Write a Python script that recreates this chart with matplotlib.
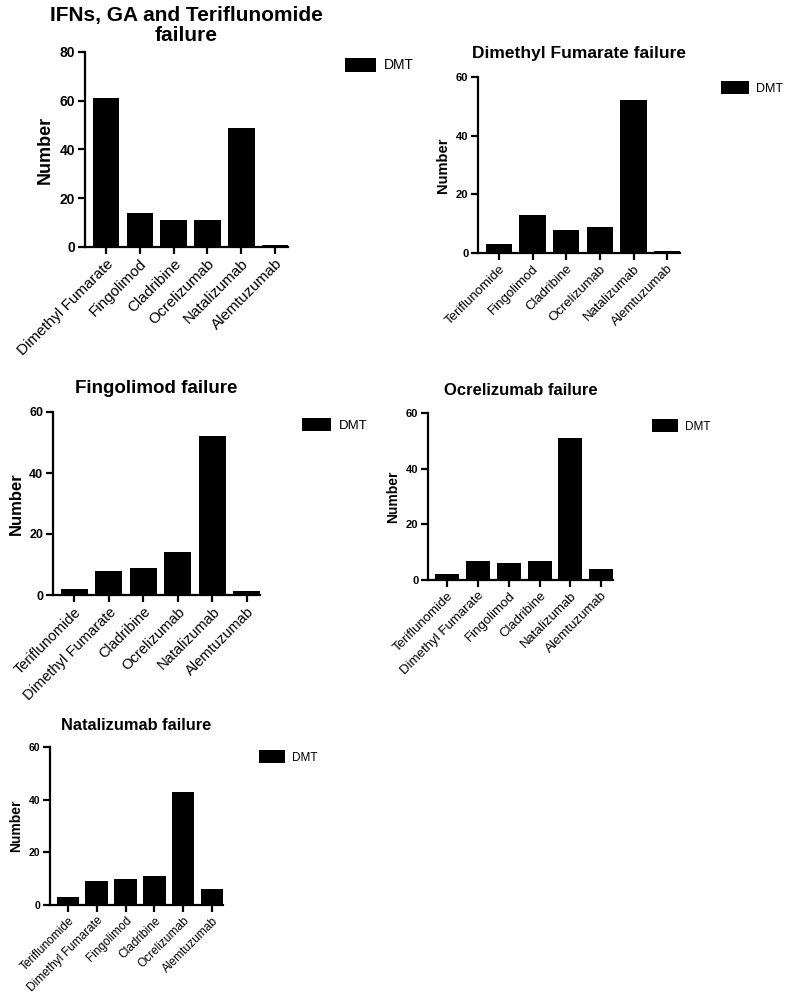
import matplotlib
matplotlib.use("Agg")
import matplotlib.pyplot as plt

plt.rcParams['font.family'] = ['Liberation Sans', 'DejaVu Sans']

# Data
titles = ["IFNs, GA and Teriflunomide\nfailure", "Dimethyl Fumarate failure",
          "Fingolimod failure", "Ocrelizumab failure", "Natalizumab failure"]

cats1 = ["Dimethyl Fumarate", "Fingolimod", "Cladribine", "Ocrelizumab", "Natalizumab", "Alemtuzumab"]
vals1 = [61, 14, 11, 11, 49, 1]

cats2 = ["Teriflunomide", "Fingolimod", "Cladribine", "Ocrelizumab", "Natalizumab", "Alemtuzumab"]
vals2 = [3, 13, 8, 9, 52, 0.7]

cats3 = ["Teriflunomide", "Dimethyl Fumarate", "Cladribine", "Ocrelizumab", "Natalizumab", "Alemtuzumab"]
vals3 = [2, 8, 9, 14, 52, 1.3]

cats4 = ["Teriflunomide", "Dimethyl Fumarate", "Fingolimod", "Cladribine", "Natalizumab", "Alemtuzumab"]
vals4 = [2, 7, 6, 7, 51, 4]

cats5 = ["Teriflunomide", "Dimethyl Fumarate", "Fingolimod", "Cladribine", "Ocrelizumab", "Alemtuzumab"]
vals5 = [3, 9, 10, 11, 43, 6]

ymaxs = [80, 60, 60, 60, 60]
series_label = "DMT"

W, H = 791, 997
fig = plt.figure(figsize=(W / 100, H / 100), dpi=100)

# pixel boxes: left, right, top, bottom
boxes = [(85, 288, 52, 247), (478, 680, 77, 253), (53, 260, 412, 595),
         (428, 613, 413, 580), (50, 223, 747, 905)]
legend_pos = [(345, 65), (721, 88), (302, 425), (652, 426), (259, 757)]
styles = [
    dict(tick=10, xtick=11, ylab=13, title=15, leg=10, pad=8),
    dict(tick=8, xtick=9.5, ylab=10.5, title=12.5, leg=9, pad=14),
    dict(tick=9, xtick=10.5, ylab=12, title=13.5, leg=9.5, pad=14),
    dict(tick=8, xtick=9.5, ylab=10, title=12, leg=8.5, pad=13),
    dict(tick=7.5, xtick=8.6, ylab=10, title=11.8, leg=8.5, pad=12),
]

data = [(cats1, vals1), (cats2, vals2), (cats3, vals3), (cats4, vals4), (cats5, vals5)]

for i, ((cats, vals), (l, r, t, b), title, ymax, st, lp) in enumerate(
        zip(data, boxes, titles, ymaxs, styles, legend_pos)):
    ax = fig.add_axes([l / W, 1 - b / H, (r - l) / W, (b - t) / H])
    x = list(range(len(cats)))
    ax.bar(x, vals, width=0.78, color='black', label=series_label)
    ax.set_xlim(-0.62, 5.38)
    ax.set_ylim(0, ymax)
    ax.set_yticks(range(0, ymax + 1, 20))
    ax.set_xticks(x)
    ax.set_xticklabels(cats, rotation=45, ha='right', rotation_mode='anchor',
                       fontsize=st['xtick'])
    for lab in ax.get_yticklabels():
        lab.set_fontsize(st['tick'])
        lab.set_fontweight('bold')
    for s in ['top', 'right']:
        ax.spines[s].set_visible(False)
    for s in ['left', 'bottom']:
        ax.spines[s].set_linewidth(1.6)
    ax.tick_params(axis='both', direction='out', width=1.6, length=5, pad=2)
    ax.set_ylabel("Number", fontsize=st['ylab'], fontweight='bold')
    ax.set_title(title, fontsize=st['title'], fontweight='bold', pad=st['pad'],
                 linespacing=1.05)
    ax.legend(loc='center left', bbox_to_anchor=(lp[0] / W, 1 - lp[1] / H),
              bbox_transform=fig.transFigure, frameon=False,
              fontsize=st['leg'], handlelength=2.2, handleheight=1.2,
              handletextpad=0.6, borderpad=0, borderaxespad=0)

fig.savefig("out.png", dpi=100, facecolor='white')
